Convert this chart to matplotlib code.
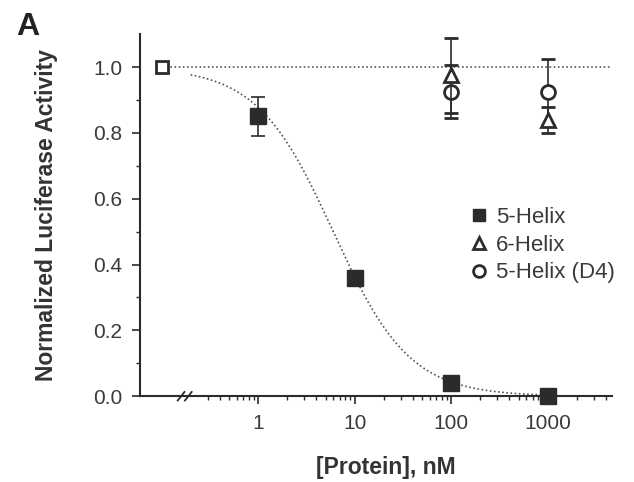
import numpy as np
import matplotlib.pyplot as plt
from matplotlib.ticker import FixedLocator, NullFormatter

plt.rcParams['font.family'] = ['Liberation Sans', 'DejaVu Sans']

# data (control plotted at 0.1 nM, left of the axis break)
control_x = 0.1
control_y = 1.0

helix5_x = [1, 10, 100, 1000]
helix5_y = [0.85, 0.36, 0.04, 0.0]
helix5_err = [0.058, 0.0, 0.0, 0.0]

helix6_x = [100, 1000]
helix6_y = [0.975, 0.84]
helix6_err = [0.115, 0.04]

d4_x = [100, 1000]
d4_y = [0.925, 0.925]
d4_err = [0.08, 0.10]

# dose-response fit for 5-Helix
ic50 = 6.0
hill = 1.1

xticks = [1, 10, 100, 1000]
xticklabels = ['1', '10', '100', '1000']
yticks = [0.0, 0.2, 0.4, 0.6, 0.8, 1.0]

ink = '#2b2b2b'

fig = plt.figure(figsize=(6.34, 4.82), dpi=100)
ax = fig.add_axes([0.221, 0.178, 0.744, 0.751])

# fitted curve and reference line at 1.0
xf = np.logspace(np.log10(0.2), np.log10(1100), 300)
ax.plot(xf, 1 / (1 + (xf / ic50) ** hill), ls=(0, (1, 1.5)), color='#555555', lw=1.2)
ax.plot([control_x, 5000], [1.0, 1.0], ls=(0, (1, 1.5)), color='#555555', lw=1.2)

ax.errorbar(helix5_x, helix5_y, yerr=helix5_err, fmt='s', ms=11, color=ink, mfc=ink,
            ecolor=ink, capsize=5, elinewidth=1.2, capthick=1.2, clip_on=False, zorder=5,
            label='5-Helix')
ax.errorbar(d4_x, d4_y, yerr=d4_err, fmt='o', ms=10, color=ink, mfc='white', mew=2,
            ecolor=ink, capsize=5, elinewidth=1.2, capthick=1.2, zorder=4,
            label='5-Helix (D4)')
ax.errorbar(helix6_x, helix6_y, yerr=helix6_err, fmt='^', ms=10, color=ink, mfc='white', mew=2,
            ecolor=ink, capsize=5, elinewidth=1.2, capthick=1.2, zorder=6,
            label='6-Helix')
ax.plot([control_x], [control_y], 's', ms=9, color=ink, mfc='white', mew=2, zorder=7)

ax.set_xscale('log')
ax.set_xlim(0.06, 4600)
ax.set_ylim(0, 1.1)

ax.xaxis.set_major_locator(FixedLocator(xticks))
ax.set_xticklabels(xticklabels)
minors = [m * 10.0 ** e for e in range(-1, 4) for m in range(2, 10) if 0.25 < m * 10.0 ** e < 4600]
ax.xaxis.set_minor_locator(FixedLocator(minors))
ax.xaxis.set_minor_formatter(NullFormatter())

ax.set_yticks(yticks)
ax.set_yticklabels(['%.1f' % v for v in yticks])
ax.yaxis.set_minor_locator(FixedLocator([0.1, 0.3, 0.5, 0.7, 0.9]))

ax.tick_params(which='major', direction='out', length=6, width=1.2, colors=ink,
               labelsize=15, labelcolor='#3a3a3a', pad=7)
ax.tick_params(which='minor', direction='out', length=3, width=1.0, colors=ink)

for s in ['top', 'right']:
    ax.spines[s].set_visible(False)
for s in ['left', 'bottom']:
    ax.spines[s].set_color(ink)
    ax.spines[s].set_linewidth(1.5)

# axis break marks
for xb in [0.16, 0.19]:
    ax.plot([xb * 0.92, xb * 1.08], [-0.013, 0.013], color=ink, lw=1.3, clip_on=False, zorder=8)

ax.set_xlabel('[Protein], nM', fontsize=16.5, fontweight='bold', color='#333333', labelpad=17)
ax.xaxis.set_label_coords(0.52, -0.165)
ax.set_ylabel('Normalized Luciferase Activity', fontsize=16.5, fontweight='bold',
              color='#333333', labelpad=25)

handles, labels = ax.get_legend_handles_labels()
order = [labels.index('5-Helix'), labels.index('6-Helix'), labels.index('5-Helix (D4)')]
leg = ax.legend([handles[i][0] for i in order], [labels[i] for i in order],
                loc='upper left', bbox_to_anchor=(0.655, 0.578), frameon=False,
                fontsize=16, handletextpad=0.3, labelspacing=0.3, handlelength=0.9,
                markerscale=0.85)
for t in leg.get_texts():
    t.set_color('#3a3a3a')

fig.text(0.026, 0.927, 'A', fontsize=23, fontweight='bold', color='#222222')

fig.savefig('out.png', dpi=100)
